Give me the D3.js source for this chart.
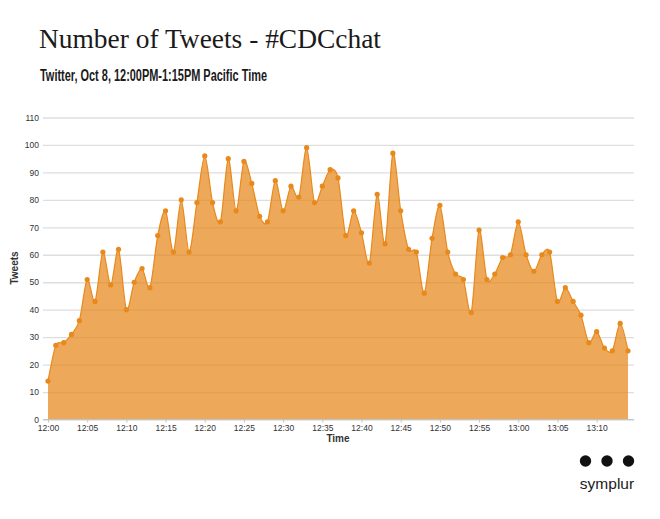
<!DOCTYPE html>
<html>
  <head>
    <title>Number of Tweets - #CDCchat</title>
    <style>
      body { margin: 0; background: #fff; }
      svg { display: block; }
      .tick text { font-family: "Liberation Sans", sans-serif; font-size: 8.5px; fill: #333; }
      .grid line { stroke: #dedede; stroke-width: 1.3; }
      .axis-title { font-family: "Liberation Sans", sans-serif; font-size: 10px; font-weight: bold; fill: #333; }
    </style>
  </head>

  <body>
    <div id="chart"></div>

    <script src="https://d3js.org/d3.v7.min.js" type="text/javascript"></script>

<script>

  // tweets per minute, starting at 12:00
  var tweets = [14,27,28,31,36,51,43,61,49,62,40,50,55,48,67,76,61,80,61,79,96,79,72,95,76,
    94,86,74,72,87,76,85,81,99,79,85,91,88,67,76,68,57,82,64,97,76,62,61,46,66,78,61,53,51,39,
    69,51,53,59,60,72,60,54,60,61,43,48,43,38,28,32,26,25,35,25];
  var minutes = tweets.map(function(d, i) { return i; });
  var timeTicks = [0,5,10,15,20,25,30,35,40,45,50,55,60,65,70];
  var timeLabels = ["12:00","12:05","12:10","12:15","12:20","12:25","12:30","12:35","12:40","12:45","12:50","12:55","13:00","13:05","13:10"];
  var tweetTicks = [0,10,20,30,40,50,60,70,80,90,100,110];

  var width = 660, height = 519;
  var margin = {top: 117.5, right: 26, bottom: 99.5, left: 43};
  var x0 = 48;

  var svg = d3.select('#chart')
    .append('svg')
    .attr("width", width)
    .attr("height", height);

  var x = d3.scaleLinear()
    .domain([0, 74])
    .range([x0, 628]);

  var y = d3.scaleLinear()
    .domain([0, 110])
    .range([height - margin.bottom, margin.top]);

  // gridlines and labels on the y axis
  svg.append("g")
    .attr("class", "grid")
    .attr("transform", "translate(" + margin.left + ",0)")
    .call(d3.axisLeft(y).tickValues(tweetTicks).tickSize(-(width - margin.left - margin.right)).tickPadding(4))
    .call(function(g) { g.select(".domain").remove(); });

  var curve = d3.curveCardinal.tension(0.15);

  var area = d3.area()
    .x(function(d) { return x(d); })
    .y0(y(0))
    .y1(function(d) { return y(tweets[d]); })
    .curve(curve);

  var line = d3.line()
    .x(function(d) { return x(d); })
    .y(function(d) { return y(tweets[d]); })
    .curve(curve);

  svg.append("path")
    .datum(minutes)
    .attr("d", area)
    .attr("fill", "#e8861a")
    .attr("fill-opacity", 0.72);

  svg.append("path")
    .datum(minutes)
    .attr("d", line)
    .attr("fill", "none")
    .attr("stroke", "#e8891c")
    .attr("stroke-width", 1.2);

  svg.selectAll("circle")
    .data(minutes)
    .enter()
    .append("circle")
    .attr("cx", function(d) { return x(d); })
    .attr("cy", function(d) { return y(tweets[d]); })
    .attr("r", 2.6)
    .attr("fill", "#e8891c");

  // x axis
  var xAxis = svg.append("g")
    .attr("transform", "translate(0," + y(0) + ")")
    .call(d3.axisBottom(x)
      .tickValues(timeTicks)
      .tickFormat(function(d, i) { return timeLabels[i]; })
      .tickSize(3)
      .tickPadding(2));
  xAxis.select(".domain")
    .attr("d", "M" + margin.left + ",0H" + (width - margin.right))
    .attr("stroke", "#c4c4c4");
  xAxis.selectAll(".tick line").attr("stroke", "#c4c4c4");

  svg.append("text")
    .attr("class", "axis-title")
    .attr("x", 338)
    .attr("y", 442)
    .attr("text-anchor", "middle")
    .text("Time");

  svg.append("text")
    .attr("class", "axis-title")
    .attr("transform", "translate(18,268) rotate(-90)")
    .attr("text-anchor", "middle")
    .text("Tweets");

  // headings
  svg.append("text")
    .attr("x", 39)
    .attr("y", 48)
    .attr("textLength", 342)
    .attr("lengthAdjust", "spacingAndGlyphs")
    .style("font-family", "'Liberation Serif', serif")
    .style("font-size", "28px")
    .style("fill", "#1a1a1a")
    .text("Number of Tweets - #CDCchat");

  svg.append("text")
    .attr("x", 40)
    .attr("y", 80.5)
    .attr("textLength", 227)
    .attr("lengthAdjust", "spacingAndGlyphs")
    .style("font-family", "'Liberation Sans Narrow', 'Liberation Sans', sans-serif")
    .style("font-size", "16px")
    .style("font-weight", "bold")
    .style("fill", "#1a1a1a")
    .text("Twitter, Oct 8, 12:00PM-1:15PM Pacific Time");

  // symplur mark
  var dots = [0, 1, 2];
  var dotX = d3.scalePoint().domain(dots).range([585.5, 628.5]);
  svg.selectAll(".dot")
    .data(dots)
    .enter()
    .append("circle")
    .attr("class", "dot")
    .attr("cx", function(d) { return dotX(d); })
    .attr("cy", 461)
    .attr("r", 5.7)
    .attr("fill", "#111");

  svg.append("text")
    .attr("x", 607)
    .attr("y", 488.5)
    .attr("text-anchor", "middle")
    .style("font-family", "'Liberation Sans', sans-serif")
    .style("font-size", "15.5px")
    .style("fill", "#1a1a1a")
    .text("symplur");
</script>
  </body>
</html>
